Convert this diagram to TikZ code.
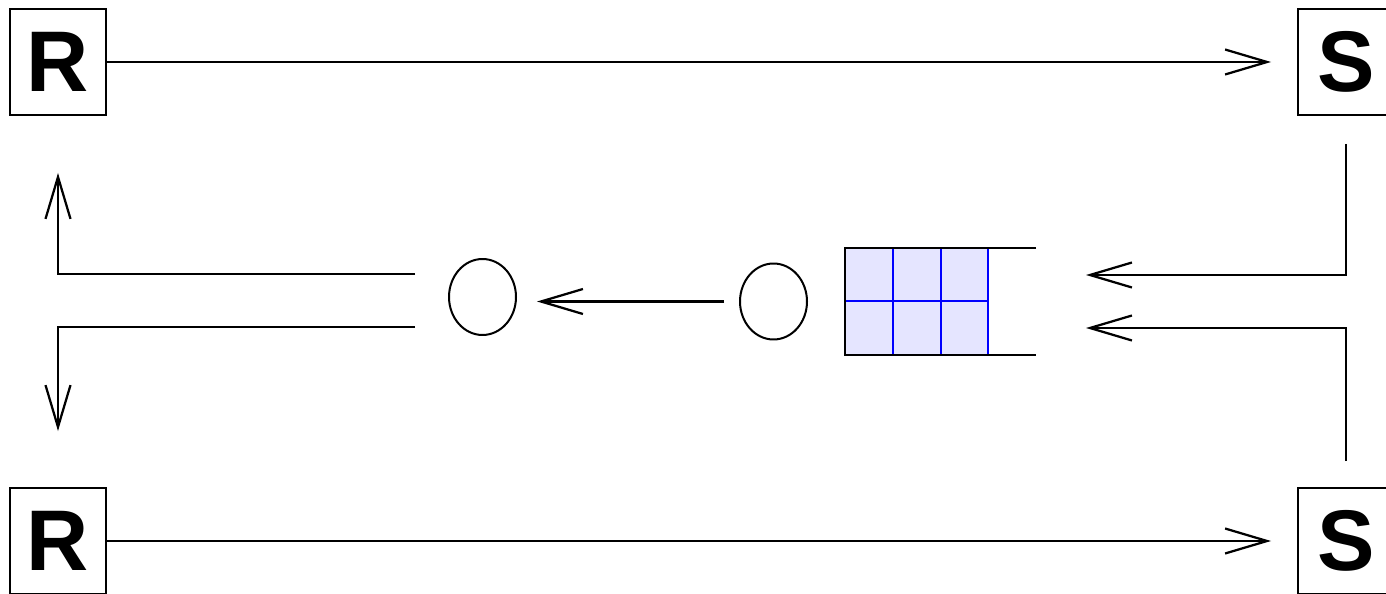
\documentclass[tikz,border=0pt]{standalone}
\usepackage{fontspec}
\setmainfont{Liberation Sans}
\usetikzlibrary{arrows.meta,shapes.geometric}
\begin{document}
\begin{tikzpicture}[x=0.02cm,y=-0.02cm,
  agent/.style={draw, line width=0.04cm, minimum width=1.92cm, minimum height=2.12cm,
    inner sep=0pt, font=\fontsize{49}{49}\selectfont\bfseries},
  proc/.style={draw, ellipse, line width=0.04cm, minimum width=1.34cm,
    minimum height=1.52cm, inner sep=0pt},
  flow/.style={line width=0.045cm, -{Straight Barb[length=0.84cm,width=0.5cm]}},
  wire/.style={line width=0.045cm},
  cellgrid/.style={draw=blue, line width=0.045cm}]
\useasboundingbox (0,0) rectangle (1386,594);

% senders and receivers
\node[agent] (r1) at (58,62) {R};
\node[agent] (s1) at (1346,62) {S};
\node[agent] (r2) at (58,541) {R};
\node[agent] (s2) at (1346,541) {S};

% processes
\node[proc] (p1) at (482.5,297) {};
\node[proc] (p2) at (773.5,301.5) {};

% queue buffer
\fill[blue!10] (845,248) rectangle (988,355);
\foreach \x in {893,941,988} \draw[cellgrid] (\x,248) -- (\x,355);
\draw[cellgrid] (845,301) -- (988,301);
\draw[wire] (1036,248) -- (845,248) -- (845,355) -- (1036,355);

% free ends
\coordinate (qin1) at (1086,275);
\coordinate (qin2) at (1086,328);
\coordinate (out1) at (415,274);
\coordinate (out2) at (415,327);

% top and bottom links
\draw[flow, shorten >=0.52cm] (r1.east) -- (s1.west);
\draw[flow, shorten >=0.52cm] (r2.east) -- (s2.west);

% senders into the queue
\draw[flow, shorten <=0.56cm] (s1.south) |- (qin1);
\draw[flow, shorten <=0.52cm] (s2.north) |- (qin2);

% between processes
\draw[flow, shorten <=0.3cm, shorten >=0.4cm] (p2.west) -- (p1.east |- p2.west);

% back to receivers
\draw[flow, shorten >=1.14cm] (out1) -| (r1.south);
\draw[flow, shorten >=1.12cm] (out2) -| (r2.north);
\end{tikzpicture}
\end{document}
